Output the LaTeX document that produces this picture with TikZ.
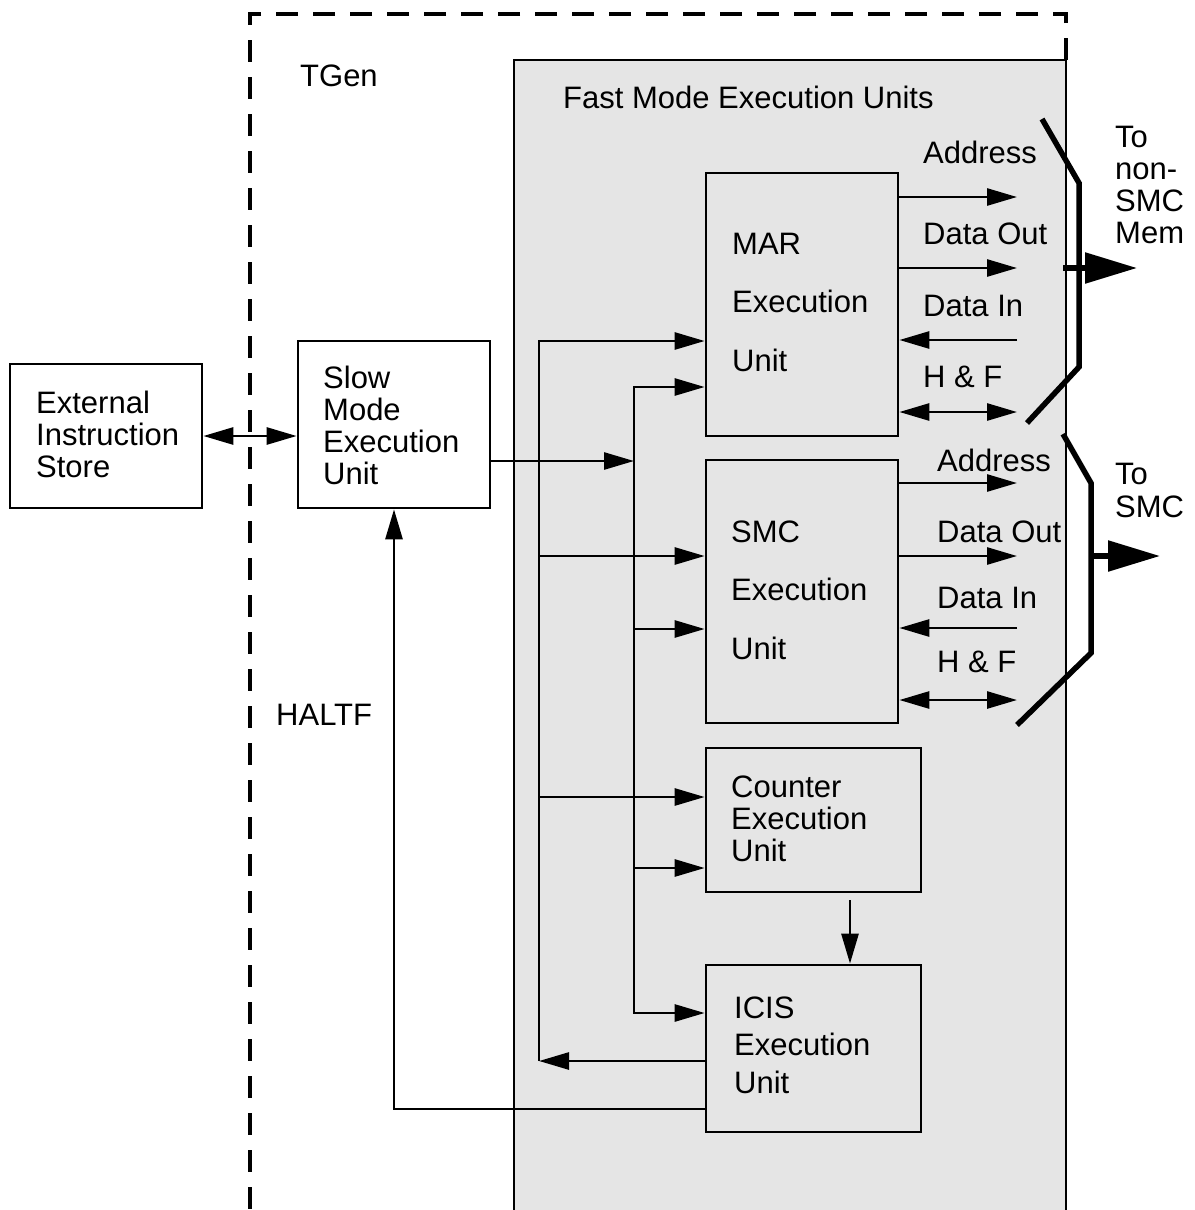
\documentclass[tikz,border=0pt]{standalone}
\usepackage{fontspec}
\setmainfont{Liberation Sans}
\usetikzlibrary{arrows.meta}
\definecolor{fastbg}{RGB}{229,229,229}
\begin{document}
\begin{tikzpicture}[x=1pt,y=-1pt,
  box/.style={draw,line width=2.7pt,inner sep=0pt},
  txt/.style={anchor=base west,inner sep=0pt,align=left,text width=260pt,font=\fontsize{31}{32}\selectfont},
  wtxt/.style={anchor=base west,inner sep=0pt,align=left,text width=260pt,font=\fontsize{31}{58.5}\selectfont},
  itxt/.style={anchor=base west,inner sep=0pt,align=left,text width=260pt,font=\fontsize{31}{37.5}\selectfont},
  lbl/.style={anchor=base west,inner sep=0pt,font=\fontsize{31}{32}\selectfont},
  ln/.style={line width=2.7pt},
  arr/.style={line width=2.7pt,-{Triangle[length=30pt,width=17pt]}},
  rarr/.style={line width=2.7pt,{Triangle[length=30pt,width=17pt]}-},
  darr/.style={line width=2.7pt,{Triangle[length=30pt,width=17pt]}-{Triangle[length=30pt,width=17pt]}},
  bus/.style={line width=5.5pt,line join=miter},
  bigarr/.style={line width=5.5pt,-{Triangle[length=52pt,width=30pt]}},
  dashbox/.style={line width=3.2pt,dash pattern=on 22pt off 15pt}]
\useasboundingbox (0,0) rectangle (1194,1210);

% fast mode area
\fill[fastbg] (514,60) rectangle (1066,1215);
\draw[dashbox] (1066,60) -- (1066,14) -- (250,14) -- (250,1215);
\draw[ln] (514,1215) -- (514,60) -- (1066,60) -- (1066,1215);
\node[lbl] (tgen) at (300,86) {TGen};
\node[lbl] (fastlbl) at (563,108) {Fast Mode Execution Units};

% boxes
\node[box,minimum width=192pt,minimum height=144pt] (ext) at (106,436) {};
\node[box,minimum width=192pt,minimum height=167pt] (slow) at (394,424.5) {};
\node[box,fill=fastbg,minimum width=192pt,minimum height=263pt] (mar) at (802,304.5) {};
\node[box,fill=fastbg,minimum width=192pt,minimum height=263pt] (smc) at (802,591.5) {};
\node[box,fill=fastbg,minimum width=215pt,minimum height=144pt] (cnt) at (813.5,820) {};
\node[box,fill=fastbg,minimum width=215pt,minimum height=167pt] (icis) at (813.5,1048.5) {};

\node[txt] (extt) at (36,413) {External\\Instruction\\Store};
\node[txt] (slowt) at (323,388) {Slow\\Mode\\Execution\\Unit};
\node[wtxt] (mart) at (732,254) {MAR\\Execution\\Unit};
\node[wtxt] (smct) at (731,542) {SMC\\Execution\\Unit};
\node[txt] (cntt) at (731,797) {Counter\\Execution\\Unit};
\node[itxt] (icist) at (734,1018) {ICIS\\Execution\\Unit};
\node[lbl] (haltf) at (276,725) {HALTF};

% left connections
\draw[darr] (ext.east) -- (ext.east -| slow.west);

% buses
\coordinate (a1) at (539,341);
\coordinate (a2) at (539,556);
\coordinate (a3) at (539,797);
\coordinate (a4) at (539,1061);
\coordinate (b1) at (634,387);
\coordinate (b2) at (634,461);
\coordinate (b3) at (634,629);
\coordinate (b4) at (634,868);
\coordinate (b5) at (634,1013);

\draw[rarr] (a1 -| mar.west) -- (a1) -- (a4);
\draw[arr] (a2) -- (a2 -| smc.west);
\draw[arr] (a3) -- (a3 -| cnt.west);
\draw[arr] (icis.west |- a4) -- (a4);
\draw[darr] (b1 -| mar.west) -- (b1) -- (b5) -- (b5 -| icis.west);
\draw[arr] (slow.east |- b2) -- (b2);
\draw[arr] (b3) -- (b3 -| smc.west);
\draw[arr] (b4) -- (b4 -| cnt.west);

% HALTF feedback
\coordinate (h1) at (394,1109);
\draw[arr] (icis.west |- h1) -- (slow.south |- h1) -- (slow.south);

% counter -> icis
\coordinate (cs) at (850,900);
\draw[arr] (cs) -- (cs |- icis.north);

% MAR signals
\coordinate (ma) at (1017,197);
\coordinate (mo) at (1017,268);
\coordinate (mi) at (1017,340);
\coordinate (mh) at (1017,412);
\draw[arr] (mar.east |- ma) -- (ma);
\draw[arr] (mar.east |- mo) -- (mo);
\draw[arr] (mi) -- (mar.east |- mi);
\draw[darr] (mar.east |- mh) -- (mh);
\node[lbl] (mal) at (923,163) {Address};
\node[lbl] (mol) at (923,244) {Data Out};
\node[lbl] (mil) at (923,316) {Data In};
\node[lbl] (mhl) at (923,387) {H \& F};

% SMC signals
\coordinate (sa) at (1017,483);
\coordinate (so) at (1017,556);
\coordinate (si) at (1017,628);
\coordinate (sh) at (1017,700);
\draw[arr] (smc.east |- sa) -- (sa);
\draw[arr] (smc.east |- so) -- (so);
\draw[arr] (si) -- (smc.east |- si);
\draw[darr] (smc.east |- sh) -- (sh);
\node[lbl] (sal) at (937,471) {Address};
\node[lbl] (sol) at (937,542) {Data Out};
\node[lbl] (sil) at (937,608) {Data In};
\node[lbl] (shl) at (937,672) {H \& F};

% memory buses
\coordinate (m1) at (1042,119);
\coordinate (m2) at (1079,183);
\coordinate (m3) at (1079,367);
\coordinate (m4) at (1027,423);
\draw[bus] (m1) -- (m2) -- (m3) -- (m4);
\coordinate (mx0) at (1063,268);
\coordinate (mx1) at (1137,268);
\draw[bigarr] (mx0) -- (mx1);
\node[txt] (tonon) at (1115,147) {To\\non-\\SMC\\Mem};

\coordinate (s1) at (1063,434);
\coordinate (s2) at (1091,483);
\coordinate (s3) at (1091,653);
\coordinate (s4) at (1017,725);
\draw[bus] (s1) -- (s2) -- (s3) -- (s4);
\coordinate (sx0) at (1091,556);
\coordinate (sx1) at (1160,556);
\draw[bigarr] (sx0) -- (sx1);
\node[txt,font=\fontsize{31}{33}\selectfont] (tosmc) at (1115,484) {To\\SMC};
\end{tikzpicture}
\end{document}
